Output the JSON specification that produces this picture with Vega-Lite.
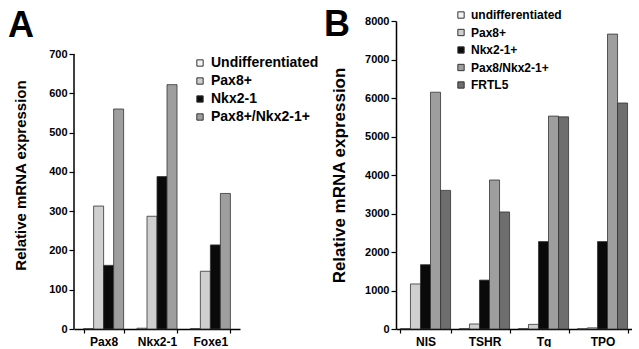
{
  "$schema": "https://vega.github.io/schema/vega-lite/v6.json",
  "padding": {"left": 8, "top": 7, "right": 0, "bottom": 0},
  "background": "white",
  "config": {
    "font": "Liberation Sans",
    "view": {"stroke": null},
    "axis": {"domainColor": "#000", "tickColor": "#000", "labelColor": "#000", "titleColor": "#000", "labelFontWeight": "bold", "titleFontWeight": "bold", "grid": false, "domainWidth": 1.5, "tickWidth": 1.2},
    "legend": {"symbolType": "square", "symbolStrokeColor": "#333", "symbolStrokeWidth": 1, "labelFontWeight": "bold", "labelColor": "#000", "labelOffset": 4}
  },
  "datasets": {
    "A": [
      {"gene": "Pax8", "cells": "Undifferentiated", "value": 1},
      {"gene": "Pax8", "cells": "Pax8+", "value": 313},
      {"gene": "Pax8", "cells": "Nkx2-1", "value": 162},
      {"gene": "Pax8", "cells": "Pax8+/Nkx2-1+", "value": 560},
      {"gene": "Nkx2-1", "cells": "Undifferentiated", "value": 2},
      {"gene": "Nkx2-1", "cells": "Pax8+", "value": 287},
      {"gene": "Nkx2-1", "cells": "Nkx2-1", "value": 388},
      {"gene": "Nkx2-1", "cells": "Pax8+/Nkx2-1+", "value": 622},
      {"gene": "Foxe1", "cells": "Undifferentiated", "value": 1},
      {"gene": "Foxe1", "cells": "Pax8+", "value": 147},
      {"gene": "Foxe1", "cells": "Nkx2-1", "value": 214},
      {"gene": "Foxe1", "cells": "Pax8+/Nkx2-1+", "value": 345}
    ],
    "A_axis": [
      {"from": 0, "to": 700}
    ],
    "B": [
      {"gene": "NIS", "cells": "undifferentiated", "value": 10},
      {"gene": "NIS", "cells": "Pax8+", "value": 1170},
      {"gene": "NIS", "cells": "Nkx2-1+", "value": 1670},
      {"gene": "NIS", "cells": "Pax8/Nkx2-1+", "value": 6150},
      {"gene": "NIS", "cells": "FRTL5", "value": 3600},
      {"gene": "TSHR", "cells": "undifferentiated", "value": 10},
      {"gene": "TSHR", "cells": "Pax8+", "value": 130},
      {"gene": "TSHR", "cells": "Nkx2-1+", "value": 1270},
      {"gene": "TSHR", "cells": "Pax8/Nkx2-1+", "value": 3870},
      {"gene": "TSHR", "cells": "FRTL5", "value": 3040},
      {"gene": "Tg", "cells": "undifferentiated", "value": 10},
      {"gene": "Tg", "cells": "Pax8+", "value": 120},
      {"gene": "Tg", "cells": "Nkx2-1+", "value": 2270},
      {"gene": "Tg", "cells": "Pax8/Nkx2-1+", "value": 5530},
      {"gene": "Tg", "cells": "FRTL5", "value": 5510},
      {"gene": "TPO", "cells": "undifferentiated", "value": 5},
      {"gene": "TPO", "cells": "Pax8+", "value": 30},
      {"gene": "TPO", "cells": "Nkx2-1+", "value": 2270},
      {"gene": "TPO", "cells": "Pax8/Nkx2-1+", "value": 7660},
      {"gene": "TPO", "cells": "FRTL5", "value": 5870}
    ]
  },
  "spacing": 5,
  "resolve": {"scale": {"color": "independent", "x": "independent", "y": "independent", "xOffset": "independent"}, "legend": {"color": "independent"}},
  "hconcat": [
    {
      "width": 166,
      "height": 308,
      "title": {"text": "A", "fontSize": 36, "fontWeight": "bold", "anchor": "start", "frame": "group", "dx": -66, "offset": -24, "color": "#000"},
      "resolve": {"scale": {"x": "independent"}},
      "layer": [
        {
          "data": {"name": "A"},
          "mark": {"type": "bar", "stroke": "#333", "strokeWidth": 0.8},
          "encoding": {
            "x": {"field": "gene", "type": "nominal", "sort": ["Pax8", "Nkx2-1", "Foxe1"], "scale": {"paddingInner": 0.25, "paddingOuter": 0.18},
              "axis": {"title": null, "labelAngle": 0, "labelFontSize": 12, "tickBand": "extent", "tickSize": 4, "labelPadding": 3}},
            "xOffset": {"field": "cells", "type": "nominal", "sort": ["Undifferentiated", "Pax8+", "Nkx2-1", "Pax8+/Nkx2-1+"], "scale": {"paddingInner": 0}},
            "y": {"field": "value", "type": "quantitative", "scale": {"domain": [0, 784], "nice": false},
              "axis": {"title": "Relative mRNA expression", "domain": false, "values": [0, 100, 200, 300, 400, 500, 600, 700], "format": "d", "tickSize": 5, "labelFontSize": 11, "titleFontSize": 15, "titlePadding": 20}},
            "color": {"field": "cells", "type": "nominal",
              "scale": {"domain": ["Undifferentiated", "Pax8+", "Nkx2-1", "Pax8+/Nkx2-1+"], "range": ["#f4f4f4", "#cfcfcf", "#0a0a0a", "#9e9e9e"]},
              "legend": {"title": null, "orient": "none", "legendX": 119, "legendY": 35, "labelFontSize": 14, "rowPadding": 4, "symbolSize": 40}}
          }
        },
        {
          "data": {"name": "A_axis"},
          "mark": {"type": "rule", "color": "#000", "strokeWidth": 1.5},
          "encoding": {
            "x": {"datum": 0, "type": "quantitative", "scale": {"domain": [0, 1]}, "axis": null},
            "y": {"field": "from", "type": "quantitative"},
            "y2": {"field": "to"}
          }
        }
      ]
    },
    {
      "width": 236,
      "height": 308,
      "title": {"text": "B", "fontSize": 36, "fontWeight": "bold", "anchor": "start", "frame": "group", "dx": -72, "offset": -35, "color": "#000"},
      "data": {"name": "B"},
      "mark": {"type": "bar", "stroke": "#333", "strokeWidth": 0.8},
      "encoding": {
        "x": {"field": "gene", "type": "nominal", "sort": ["NIS", "TSHR", "Tg", "TPO"], "scale": {"paddingInner": 0.15, "paddingOuter": 0.075},
          "axis": {"title": null, "labelAngle": 0, "labelFontSize": 12, "tickBand": "extent", "tickSize": 4, "labelPadding": 3}},
        "xOffset": {"field": "cells", "type": "nominal", "sort": ["undifferentiated", "Pax8+", "Nkx2-1+", "Pax8/Nkx2-1+", "FRTL5"], "scale": {"paddingInner": 0}},
        "y": {"field": "value", "type": "quantitative", "scale": {"domain": [0, 8000]},
          "axis": {"title": "Relative mRNA expression", "values": [0, 1000, 2000, 3000, 4000, 5000, 6000, 7000, 8000], "format": "d", "tickSize": 5, "labelFontSize": 11, "titleFontSize": 17, "titlePadding": 16}},
        "color": {"field": "cells", "type": "nominal",
          "scale": {"domain": ["undifferentiated", "Pax8+", "Nkx2-1+", "Pax8/Nkx2-1+", "FRTL5"], "range": ["#f4f4f4", "#cfcfcf", "#0a0a0a", "#9e9e9e", "#6e6e6e"]},
          "legend": {"title": null, "orient": "none", "legendX": 59, "legendY": -12, "labelFontSize": 12, "rowPadding": 5.5, "symbolSize": 40}}
      }
    }
  ]
}
